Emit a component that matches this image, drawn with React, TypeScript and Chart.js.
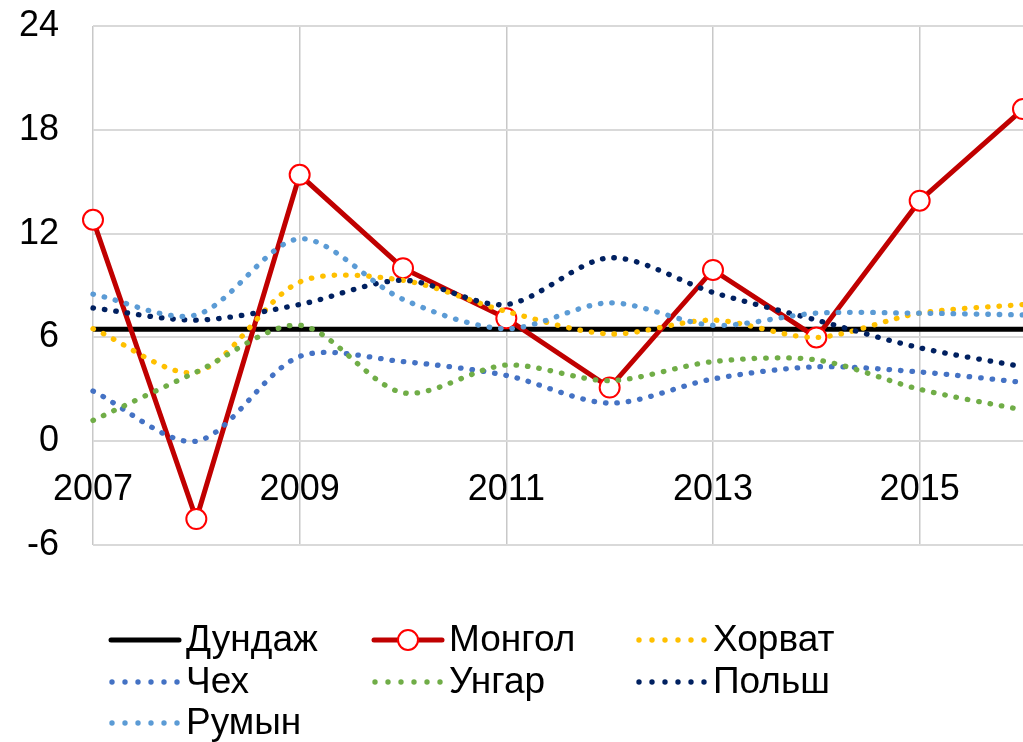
import React, { useEffect, useRef } from "react";
import { Chart, registerables } from "chart.js";

Chart.register(...registerables);

const years = ["2007", "2008", "2009", "2010", "2011", "2012", "2013", "2014", "2015", "2016"];
const dundaj = [6.47, 6.47, 6.47, 6.47, 6.47, 6.47, 6.47, 6.47, 6.47, 6.47];
const mongol = [12.8, -4.5, 15.4, 10.0, 7.1, 3.1, 9.9, 6.0, 13.9, 19.2];
const khorvat = [6.5, 4.0, 9.2, 9.3, 7.5, 6.2, 7.0, 6.0, 7.4, 7.9];
const chekh = [2.9, 0.0, 4.9, 4.6, 3.8, 2.2, 3.6, 4.3, 4.0, 3.4];
const ungar = [1.2, 4.0, 6.7, 2.8, 4.4, 3.5, 4.6, 4.7, 3.0, 1.8];
const polsh = [7.7, 7.0, 7.9, 9.3, 7.9, 10.6, 8.6, 7.0, 5.4, 4.3];
const rumyn = [8.5, 7.3, 11.7, 8.2, 6.5, 8.0, 6.7, 7.4, 7.4, 7.3];
const yTicks = [24, 18, 12, 6, 0, -6];

const FONT = "'Liberation Sans', Arial, sans-serif";

type SeriesDef = { label: string; data: number[]; color: string; kind: "solid" | "marker" | "dot" };

const series: SeriesDef[] = [
  { label: "Дундаж", data: dundaj, color: "#000000", kind: "solid" },
  { label: "Монгол", data: mongol, color: "#C00000", kind: "marker" },
  { label: "Хорват", data: khorvat, color: "#FFC000", kind: "dot" },
  { label: "Чех", data: chekh, color: "#4472C4", kind: "dot" },
  { label: "Унгар", data: ungar, color: "#70AD47", kind: "dot" },
  { label: "Польш", data: polsh, color: "#002060", kind: "dot" },
  { label: "Румын", data: rumyn, color: "#5B9BD5", kind: "dot" },
];

const legendPlugin = {
  id: "gridLegend",
  afterDraw(chart: any) {
    const ctx = chart.ctx;
    const colX = [109, 372, 636];
    const rowY = [640, 682, 723];
    ctx.save();
    series.forEach((s, i) => {
      const x0 = colX[i % 3];
      const y = rowY[Math.floor(i / 3)];
      const w = 72;
      if (s.kind === "solid" || s.kind === "marker") {
        ctx.beginPath();
        ctx.strokeStyle = s.color;
        ctx.lineWidth = 5;
        ctx.lineCap = "round";
        ctx.moveTo(x0 + 2, y);
        ctx.lineTo(x0 + w - 2, y);
        ctx.stroke();
        if (s.kind === "marker") {
          ctx.beginPath();
          ctx.fillStyle = "#ffffff";
          ctx.strokeStyle = "#FF0000";
          ctx.lineWidth = 2;
          ctx.arc(x0 + w / 2, y, 10, 0, Math.PI * 2);
          ctx.fill();
          ctx.stroke();
        }
      } else {
        ctx.fillStyle = s.color;
        for (let k = 0; k < 6; k++) {
          ctx.beginPath();
          ctx.arc(x0 + 3 + k * 13, y, 2.7, 0, Math.PI * 2);
          ctx.fill();
        }
      }
      ctx.fillStyle = "#000000";
      ctx.font = `37px ${FONT}`;
      ctx.textBaseline = "middle";
      ctx.textAlign = "left";
      ctx.fillText(s.label, x0 + w + 5, y + 1);
    });
    ctx.restore();
  },
};

export default function App() {
  const canvasRef = useRef<HTMLCanvasElement | null>(null);

  useEffect(() => {
    if (!canvasRef.current) return;
    const n = series.length;
    const chart = new Chart(canvasRef.current, {
      type: "line",
      data: {
        labels: years,
        datasets: series.map((s, i) => ({
          label: s.label,
          data: s.data,
          order: n - i,
          borderColor: s.color,
          backgroundColor: s.color,
          borderWidth: s.kind === "dot" ? 5.3 : 5,
          borderDash: s.kind === "dot" ? [0.5, 11] : [],
          borderCapStyle: s.kind === "dot" ? "round" : "butt",
          tension: s.kind === "dot" ? 0.3 : 0,
          pointRadius: s.kind === "marker" ? 10 : 0,
          pointHoverRadius: s.kind === "marker" ? 10 : 0,
          pointBorderWidth: 2,
          pointBorderColor: "#FF0000",
          pointBackgroundColor: "#ffffff",
          fill: false,
          clip: false as any,
        })),
      },
      options: {
        animation: false,
        responsive: false,
        maintainAspectRatio: false,
        events: [],
        layout: { autoPadding: false, padding: { top: 26, bottom: 197, left: 0, right: 0 } },
        plugins: {
          legend: { display: false },
          tooltip: { enabled: false },
        },
        scales: {
          x: {
            type: "category",
            position: { y: 0 } as any,
            offset: false,
            border: { display: false },
            grid: {
              drawTicks: true,
              tickLength: 27,
              tickColor: "rgba(0,0,0,0)",
              color: (c: any) => (c.index % 2 === 0 ? "#C8C8C8" : "rgba(0,0,0,0)"),
              lineWidth: 1.5,
            },
            ticks: {
              autoSkip: false,
              maxRotation: 0,
              padding: 0,
              color: "#000000",
              font: { family: FONT, size: 36 },
              callback: (_v: any, idx: number) => (idx % 2 === 0 ? years[idx] : ""),
            },
          },
          y: {
            min: -6,
            max: 24,
            border: { display: false },
            afterFit: (scale: any) => {
              scale.width = 93;
            },
            afterBuildTicks: (scale: any) => {
              scale.ticks = yTicks.map((v) => ({ value: v }));
            },
            grid: {
              drawTicks: true,
              tickLength: 34,
              tickColor: "rgba(0,0,0,0)",
              color: "#D9D9D9",
              lineWidth: 2,
            },
            ticks: {
              padding: 0,
              color: "#000000",
              font: { family: FONT, size: 36 },
            },
          },
        },
      },
      plugins: [legendPlugin],
    });
    return () => chart.destroy();
  }, []);

  return (
    <div style={{ position: "absolute", left: 0, top: 0, width: 1023, height: 742, background: "#fff" }}>
      <canvas ref={canvasRef} width={1023} height={742} style={{ width: 1023, height: 742, display: "block" }} />
    </div>
  );
}
